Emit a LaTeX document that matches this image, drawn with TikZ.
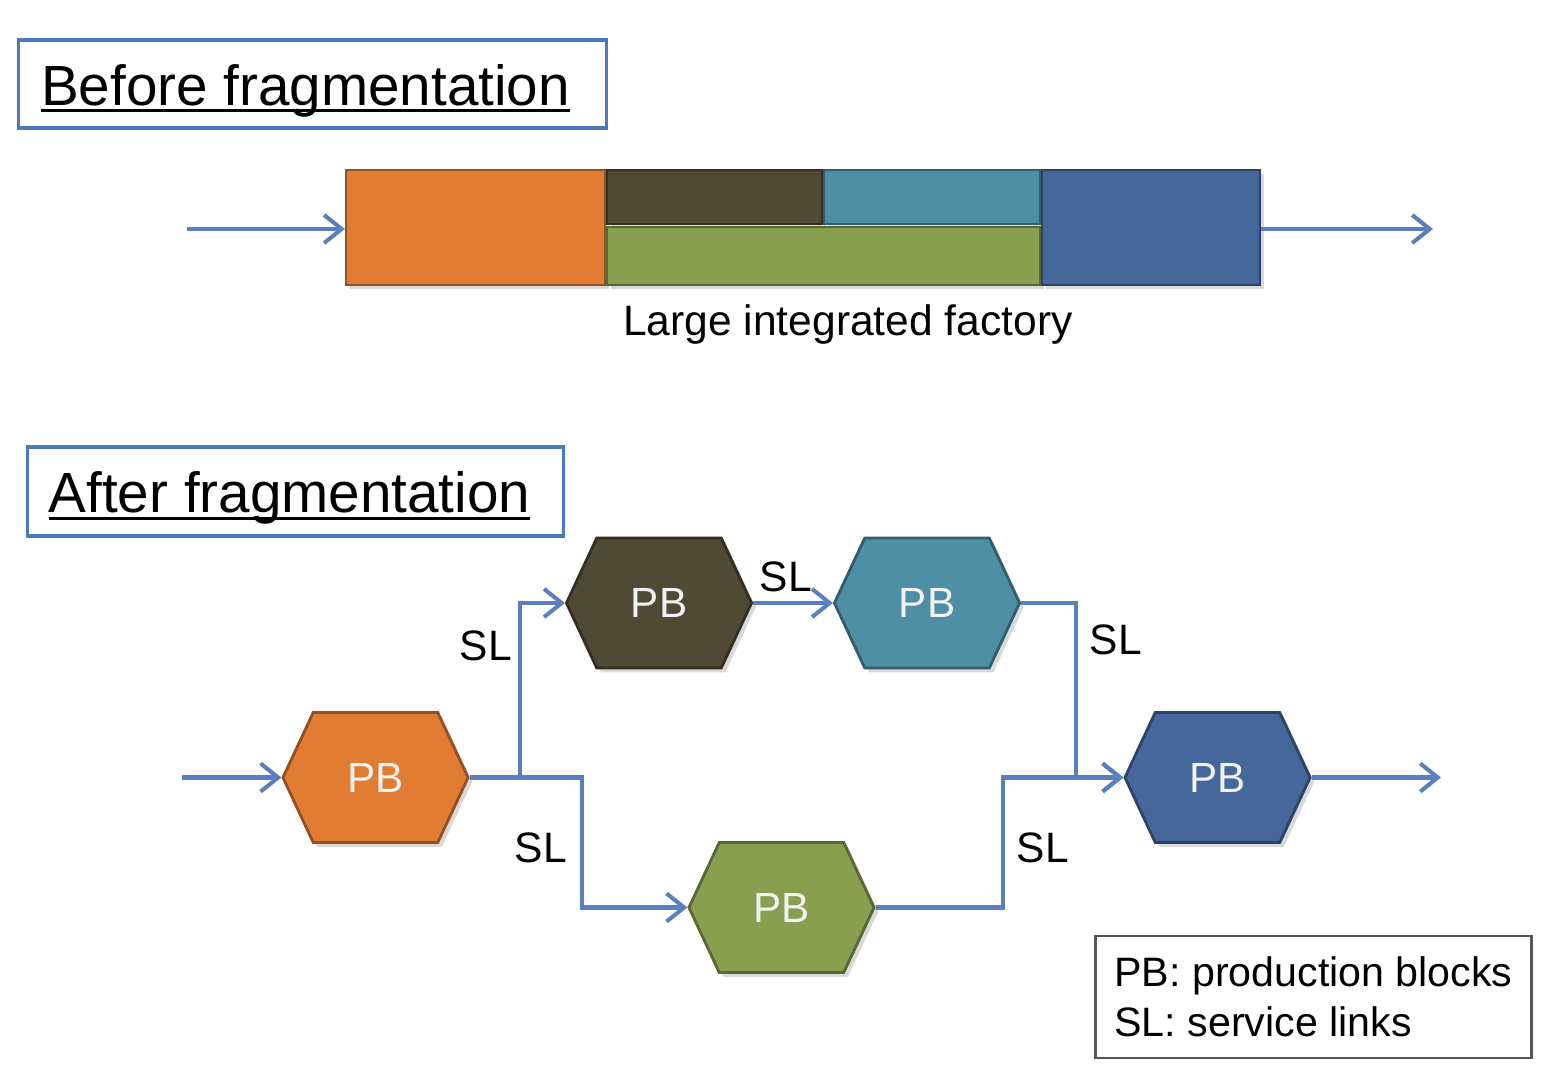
\documentclass[tikz,border=0pt]{standalone}
\usepackage{fontspec}
\setmainfont{Liberation Sans}
\usepackage{tikz}
\usetikzlibrary{arrows.meta}
\usetikzlibrary{shapes.symbols}
\usetikzlibrary{shadows}
\definecolor{pborange}{HTML}{E27C33}
\definecolor{pbdark}{HTML}{4F4A35}
\definecolor{pbteal}{HTML}{4E8FA6}
\definecolor{pbgreen}{HTML}{879F4F}
\definecolor{pbblue}{HTML}{45679B}
\definecolor{boxblue}{HTML}{4D78C2}
\definecolor{linkblue}{HTML}{5A7FC1}
\definecolor{legendgray}{HTML}{555555}
% underline that sits just under the baseline
\newcommand{\titleline}[1]{\setbox0\hbox{#1}\rlap{\rule[-2.1pt]{\wd0}{0.9pt}}\box0}

\begin{document}
\begin{tikzpicture}[x=0.01cm,y=-0.01cm,>={Straight Barb[length=5pt,width=8pt]},
    flow/.style={->,draw=linkblue,line width=1.15pt},
    title box/.style={draw=boxblue,line width=0.9pt,inner sep=0pt,
      text height=0.52cm,text depth=0.10cm,font=\fontsize{16.1}{19}\selectfont},
    bar/.style={draw=#1!65!black,fill=#1,inner sep=0pt,line width=0.6pt,
      drop shadow={opacity=0.3,shadow xshift=1.2pt,shadow yshift=-1.2pt}},
    pb node/.style={signal,signal to=east and west,signal pointer angle=130,
      draw=#1!65!black,fill=#1,line width=0.8pt,inner sep=0pt,
      minimum width=1.85cm,minimum height=1.30cm,
      text={white!95!black},font=\fontsize{12}{14}\selectfont,
      drop shadow={opacity=0.3,shadow xshift=1.2pt,shadow yshift=-1.2pt}},
    sl/.style={font=\fontsize{12.1}{14}\selectfont}]
  \useasboundingbox (0,0) rectangle (1561,1082);

  % before fragmentation
  \node[title box,minimum width=5.87cm,minimum height=0.88cm] (before) at (312.5,84) {\titleline{Before fragmentation}\hspace*{0.14cm}};
  \node[bar=pborange,minimum width=2.59cm,minimum height=1.15cm] (fo) at (475.5,227.5) {};
  \node[bar=pbdark,minimum width=2.15cm,minimum height=0.54cm] (fd) at (714.5,197) {};
  \node[bar=pbteal,minimum width=2.16cm,minimum height=0.54cm] (ft) at (932,197) {};
  \node[bar=pbgreen,minimum width=4.33cm,minimum height=0.58cm] (fg) at (823.5,256) {};
  \node[bar=pbblue,minimum width=2.18cm,minimum height=1.15cm] (fb) at (1151,227.5) {};
  \coordinate (fin) at (187,229);
  \coordinate (fout) at (1433,229);
  \draw[flow] (fin) -- (fin -| fo.west);
  \draw[flow] (fout -| fb.east) -- (fout);
  \node[sl] (factory) at (848,324) {Large integrated factory};

  % after fragmentation
  \node[title box,minimum width=5.35cm,minimum height=0.89cm] (after) at (295.5,491.5) {\titleline{After fragmentation}\hspace*{0.12cm}};
  \node[pb node=pborange] (po) at (375.5,777.5) {PB};
  \node[pb node=pbdark] (pd) at (659,603) {PB};
  \node[pb node=pbteal] (pt) at (927,603) {PB};
  \node[pb node=pbgreen] (pg) at (781.5,907.5) {PB};
  \node[pb node=pbblue] (pbb) at (1217.5,777.5) {PB};
  \coordinate (pin) at (182,777.5);
  \coordinate (pout) at (1441,777.5);

  \draw[flow] (pin) -- (po.west);
  \draw[flow] (po.east) -- ++(50,0) coordinate (split) |- (pd.west);
  \draw[flow] (split) -- ++(62,0) |- (pg.west);
  \draw[flow] (pd.east) -- (pt.west);
  \draw[flow] (pt.east) -- ++(55,0) |- (pbb.west);
  \draw[flow] (pg.east) -- ++(127,0) |- (pbb.west);
  \draw[flow] (pbb.east) -- (pout);

  \node[sl] (sl1) at (486,646) {SL};
  \node[sl] (sl2) at (786,577) {SL};
  \node[sl] (sl3) at (1116,640) {SL};
  \node[sl] (sl4) at (541,848) {SL};
  \node[sl] (sl5) at (1043,848) {SL};

  % legend
  \node[draw=legendgray,line width=0.7pt,minimum height=1.22cm,align=left,
    inner xsep=0.19cm,inner ysep=0pt,font=\fontsize{11.7}{14.2}\selectfont]
    (legend) at (1313.5,997) {PB: production blocks\\SL: service links};
\end{tikzpicture}
\end{document}
